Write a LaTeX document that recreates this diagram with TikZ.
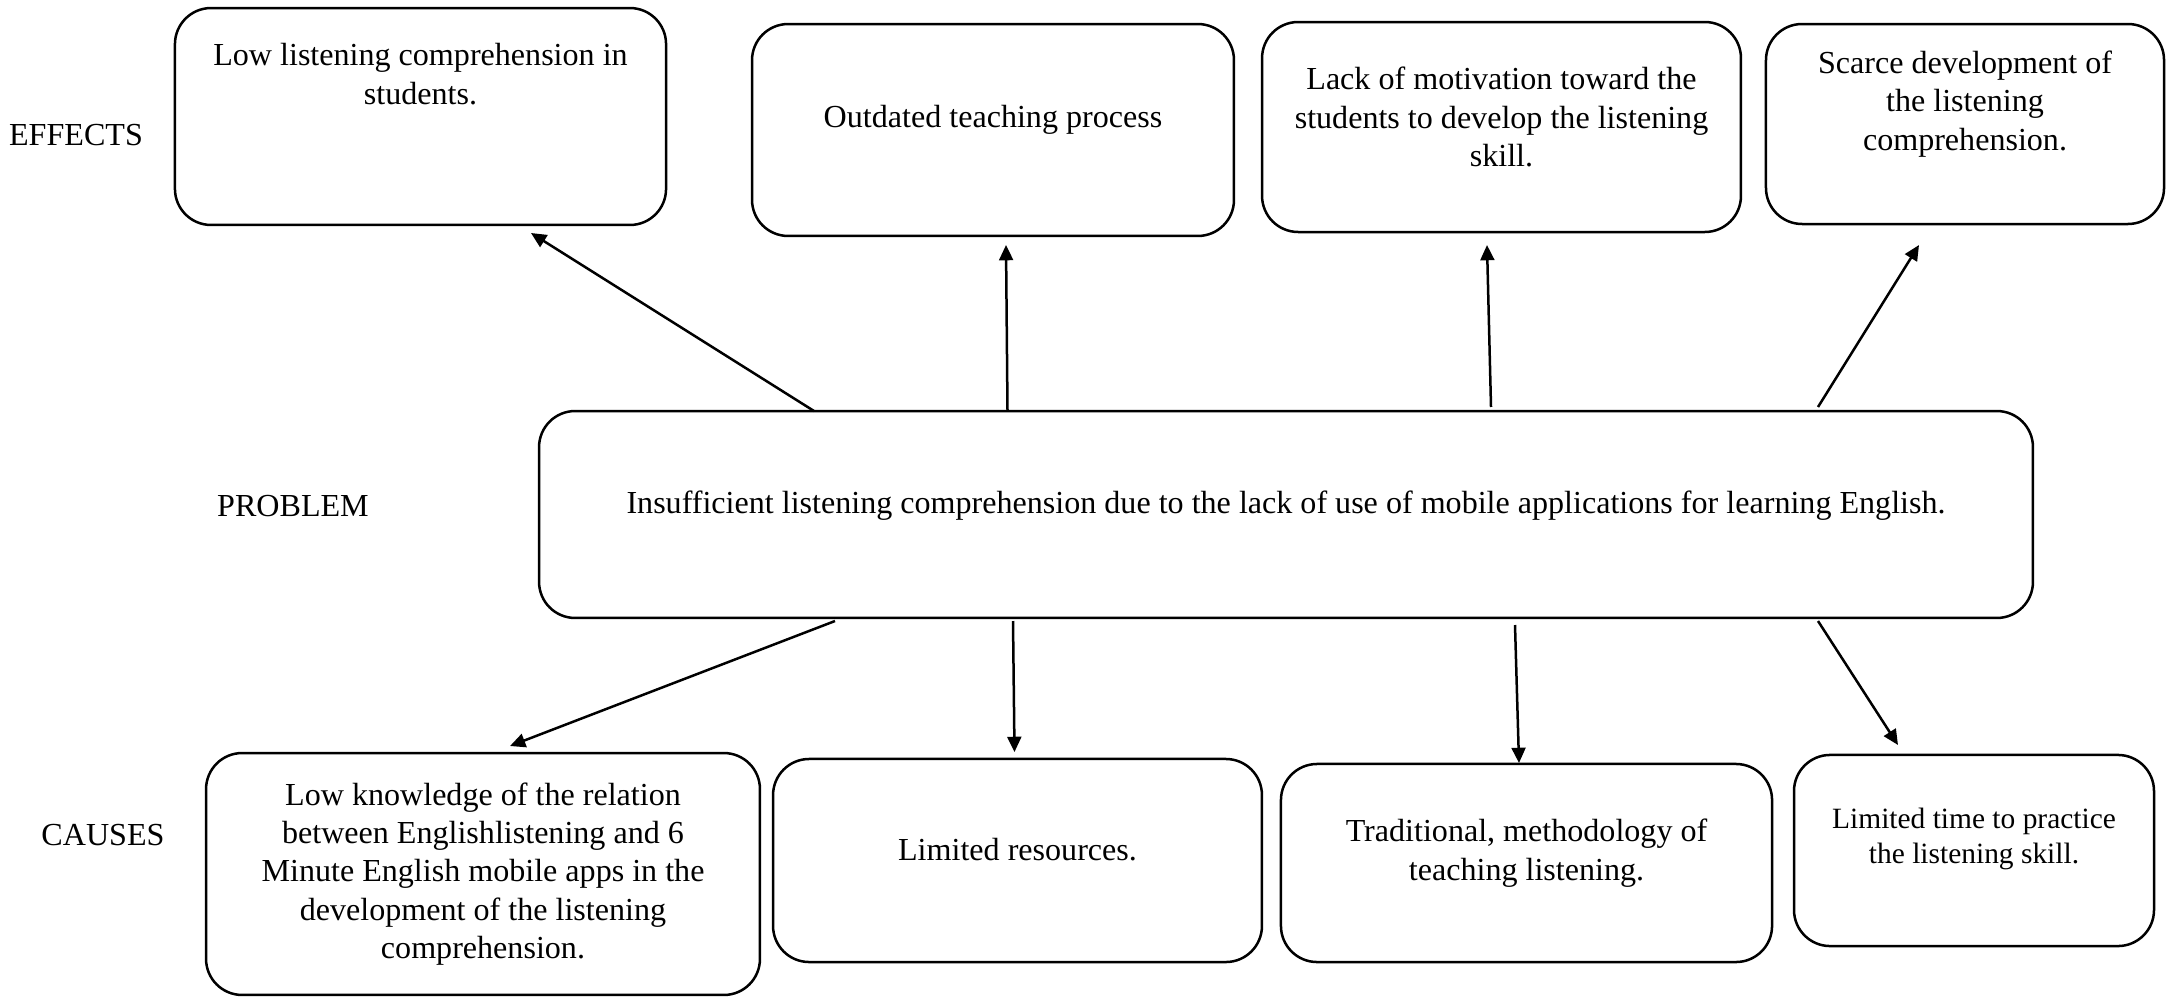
\documentclass[tikz,border=0pt]{standalone}
\usepackage{fontspec}
\setmainfont{Liberation Serif}
\usetikzlibrary{arrows.meta}
\begin{document}
\begin{tikzpicture}[x=0.36pt, y=-0.36pt,
  every node/.style={font=\fontsize{11.55}{13.8}\selectfont, inner sep=0pt},
  box/.style={draw, line width=0.9pt, rounded corners=13pt},
  txt/.style={align=center},
  arr/.style={line width=0.9pt, -{Triangle[length=5.5pt,width=5pt]}}]
\useasboundingbox (0,0) rectangle (2179,997);

% side labels
\node (leff) at (76,135) {EFFECTS};
\node (lprob) at (293,506) {PROBLEM};
\node (lcau) at (103,835) {CAUSES};

% effects
\node[box, minimum width=176.8pt, minimum height=78.1pt] (e1) at (420.5,116.5) {};
\node[txt] (e1t) at (420.5,74) {Low listening comprehension in\\ students.};
\node[box, minimum width=173.5pt, minimum height=76.3pt] (e2) at (993,130) {};
\node[txt] (e2t) at (993,120) {Outdated teaching process};
\node[box, minimum width=172.4pt, minimum height=75.6pt] (e3) at (1501.5,127) {};
\node[txt] (e3t) at (1501.5,117) {Lack of motivation toward the\\ students to develop the listening\\ skill.};
\node[box, minimum width=143.3pt, minimum height=72pt] (e4) at (1965,124) {};
\node[txt] (e4t) at (1965,104) {Scarce development of\\ the listening\\ comprehension.};

% problem
\node[box, minimum width=537.8pt, minimum height=74.5pt] (p) at (1286,514.5) {};
\node[txt] (pt) at (1286,506) {Insufficient listening comprehension due to the lack of use of mobile applications for learning English.};

% causes
\node[box, minimum width=199.4pt, minimum height=87.1pt] (c1) at (483,874) {};
\node[txt] (c1t) at (483,874) {Low knowledge of the relation\\ between Englishlistening and 6\\ Minute English mobile apps in the\\ development of the listening\\ comprehension.};
\node[box, minimum width=176pt, minimum height=73.1pt] (c2) at (1017.5,860.5) {};
\node[txt] (c2t) at (1017.5,850) {Limited resources.};
\node[box, minimum width=176.8pt, minimum height=71.3pt] (c3) at (1526.5,863) {};
\node[txt] (c3t) at (1526.5,853) {Traditional, methodology of\\ teaching listening.};
\node[box, minimum width=129.6pt, minimum height=68.8pt] (c4) at (1974,850.5) {};
\node[txt, font=\fontsize{10.6}{12.9}\selectfont] (c4t) at (1974,839) {Limited time to practice\\ the listening skill.};

% arrow end points
\coordinate (s1) at (814,411);   \coordinate (t1) at (531,233);
\coordinate (s2) at (1007.5,411); \coordinate (t2) at (1006,245);
\coordinate (s3) at (1491,407);  \coordinate (t3) at (1487,245);
\coordinate (s4) at (1818,407);  \coordinate (t4) at (1919,245);
\coordinate (s5) at (835,621);   \coordinate (t5) at (510,746);
\coordinate (s6) at (1013,621);  \coordinate (t6) at (1014.5,752);
\coordinate (s7) at (1515,625);  \coordinate (t7) at (1519,763);
\coordinate (s8) at (1818,621);  \coordinate (t8) at (1898,745);

\foreach \i in {1,...,8} \draw[arr] (s\i) -- (t\i);
\end{tikzpicture}
\end{document}
